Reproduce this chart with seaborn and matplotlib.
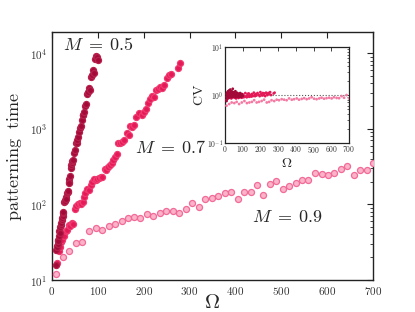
import numpy as np
import pandas as pd
import matplotlib
matplotlib.use("Agg")
import matplotlib.pyplot as plt
import seaborn as sns
from matplotlib.ticker import LogLocator, LogFormatterMathtext, FixedLocator

# ---------------- data ----------------
omega_05 = [9, 9.5, 10, 11, 12, 13, 14, 15, 16, 17, 18, 19, 20, 21, 22, 23, 24, 25, 27, 28,
            29, 30, 31, 32, 34, 35, 36, 37, 38, 39, 41, 42, 43, 44, 46, 48, 50, 52, 54, 55,
            57, 59, 61, 63, 65, 67, 68, 70, 72, 74, 76, 78, 80, 82, 86, 88, 90, 92, 94, 96,
            98, 100]
time_05 = [16, 25, 28, 27, 30, 34, 33, 38, 44, 42, 50, 54, 56, 62, 66, 70, 76, 80, 108, 115,
           110, 125, 118, 140, 148, 150, 200, 215, 191, 240, 300, 330, 355, 370, 390, 480, 520, 640, 650, 720,
           790, 900, 1020, 1100, 1320, 1500, 1540, 1650, 2000, 2100, 2900, 3100, 3500, 3300, 4800, 5200, 6000, 5500, 8500, 9100,
           8800, 8200]
cv_05 = [0.75, 0.9, 1.05, 0.95, 1.1, 0.85, 1.0, 1.15, 0.92, 1.05,
         1.2, 0.98, 0.88, 1.1, 1.0, 0.95, 1.25, 1.05, 0.9, 1.12,
         0.97, 1.3, 1.0, 0.93, 1.08, 1.15, 0.95, 1.02, 1.2, 0.9,
         1.05, 1.1, 0.98, 1.35, 1.0, 0.92, 1.15, 1.05, 0.95, 1.1,
         1.0, 1.2, 0.9, 1.03, 0.97, 1.12, 0.95, 1.0, 1.08, 0.93,
         1.0, 1.05, 0.9, 0.98, 1.1, 0.95, 1.02, 0.92, 1.0, 1.05,
         0.97, 0.95]

omega_07 = [10, 15, 17, 20, 22, 25, 27, 30, 33, 36, 40, 43, 46, 50, 53, 56, 60, 63, 67, 70,
            73, 76, 80, 85, 88, 92, 95, 98, 103, 106, 110, 115, 118, 123, 127, 130, 134, 137, 141, 145,
            148, 152, 157, 163, 167, 170, 175, 178, 184, 190, 196, 200, 205, 210, 214, 218, 222, 227, 232, 236,
            240, 245, 250, 255, 260, 275, 280]
time_07 = [17, 24, 27, 32, 34, 40, 38, 44, 46, 54, 52, 56, 55, 88, 95, 100, 104, 100, 109, 125,
           140, 160, 155, 182, 200, 215, 212, 216, 222, 230, 232, 290, 287, 316, 330, 350, 390, 420, 460, 650,
           640, 670, 700, 870, 830, 1100, 1070, 1130, 1450, 1600, 1500, 1650, 1800, 2200, 2450, 2700, 2600, 3300, 3400, 3600,
           3450, 3800, 4700, 5100, 5300, 6400, 7500]
cv_07 = [0.8, 0.95, 0.85, 1.0, 0.9, 1.05, 0.88, 0.95, 1.1, 0.85,
         0.92, 1.0, 0.9, 0.95, 1.05, 0.88, 0.92, 0.85, 0.95, 0.9,
         0.98, 0.87, 0.93, 1.0, 0.9, 0.95, 0.88, 0.92, 1.02, 0.9,
         0.95, 1.1, 0.93, 0.9, 1.05, 0.95, 1.08, 0.92, 0.98, 1.0,
         0.93, 1.05, 0.95, 1.12, 1.0, 0.95, 1.05, 0.98, 1.1, 1.02,
         0.95, 1.15, 1.05, 0.98, 1.1, 1.0, 1.08, 0.95, 1.12, 1.05,
         1.0, 1.1, 1.05, 1.15, 1.0, 1.08, 1.12]

omega_09 = [9, 24, 38, 53, 66, 80, 95, 110, 124, 138, 152, 165, 179, 192, 207, 221, 236, 249, 263, 278,
            292, 305, 320, 334, 348, 362, 377, 390, 405, 418, 433, 447, 461, 475, 489, 503, 517, 532, 545, 559,
            573, 588, 602, 615, 630, 644, 658, 672, 686, 700]
time_09 = [12, 20, 24.5, 31, 32, 45, 49, 46, 51, 55, 61, 67, 68, 67, 75, 71, 78, 83, 83, 76,
           86, 104, 92, 117, 121, 130, 141, 144, 117, 148, 145, 178, 134, 186, 205, 158, 176, 191, 210, 209,
           259, 253, 246, 259, 292, 326, 246, 282, 282, 358]
cv_09 = [0.6, 0.65, 0.7, 0.68, 0.72, 0.65, 0.7, 0.75, 0.68, 0.7,
         0.72, 0.78, 0.7, 0.72, 0.75, 0.8, 0.7, 0.72, 0.78, 0.75,
         0.8, 0.78, 0.82, 0.8, 0.78, 0.85, 0.8, 0.82, 0.85, 0.8,
         0.83, 0.86, 0.82, 0.85, 0.9, 0.84, 0.82, 0.85, 0.88, 0.84,
         0.86, 0.88, 0.85, 0.9, 0.87, 0.86, 0.95, 0.88, 1.0, 0.85]

series_labels = [r"$M\;=\;0.5$", r"$M\;=\;0.7$", r"$M\;=\;0.9$"]
x_ticks = [0, 100, 200, 300, 400, 500, 600, 700]

# ---------------- style ----------------
sns.set_style("white")
plt.rcParams["font.family"] = ["cmr10", "DejaVu Serif"]
plt.rcParams["mathtext.fontset"] = "cm"
plt.rcParams["axes.formatter.use_mathtext"] = True

face = {"0.5": "#a30a3a", "0.7": "#e41a58", "0.9": "#fbb3c9"}
edge = {"0.5": "#b8204c", "0.7": "#f03a70", "0.9": "#f26a98"}

df = pd.concat([
    pd.DataFrame({"omega": omega_05, "time": time_05, "cv": cv_05, "M": "0.5"}),
    pd.DataFrame({"omega": omega_07, "time": time_07, "cv": cv_07, "M": "0.7"}),
    pd.DataFrame({"omega": omega_09, "time": time_09, "cv": cv_09, "M": "0.9"}),
], ignore_index=True)

fig = plt.figure(figsize=(4.15, 3.12), dpi=100)
ax = fig.add_axes([0.1253, 0.1026, 0.7735, 0.7945])

for m in ["0.9", "0.7", "0.5"]:
    sub = df[df["M"] == m]
    sns.scatterplot(data=sub, x="omega", y="time", ax=ax, s=19, color=face[m],
                    edgecolor=edge[m], linewidth=0.9, legend=False, zorder=3)

ax.set_yscale("log")
ax.set_xlim(0, 700)
ax.set_ylim(10, 1.9e4)
ax.xaxis.set_major_locator(FixedLocator(x_ticks))
ax.yaxis.set_major_locator(LogLocator(base=10, numticks=10))
ax.yaxis.set_minor_locator(LogLocator(base=10, subs=np.arange(2, 10), numticks=20))
ax.yaxis.set_major_formatter(LogFormatterMathtext())
ax.tick_params(which="both", direction="in", top=True, right=True, colors="#222222",
               labelcolor="#333333", labelsize=8)
ax.tick_params(which="major", length=4, width=0.8)
ax.tick_params(which="minor", length=2, width=0.6)
for sp in ax.spines.values():
    sp.set_color("#222222")
    sp.set_linewidth(1.0)
ax.set_xlabel(r"$\Omega$", fontsize=15, labelpad=-2)
ax.set_ylabel(r"$\mathrm{patterning\ \ time}$", fontsize=13, labelpad=4)

ax.text(25, 13000, series_labels[0], fontsize=13, ha="left", va="center")
ax.text(181, 560, series_labels[1], fontsize=13, ha="left", va="center")
ax.text(436, 68, series_labels[2], fontsize=13, ha="left", va="center")

# ---------------- inset ----------------
ins = fig.add_axes([0.542, 0.5417, 0.299, 0.3073])
for m in ["0.9", "0.7", "0.5"]:
    sub = df[df["M"] == m]
    sns.scatterplot(data=sub, x="omega", y="cv", ax=ins, s=4, color=face[m] if m != "0.9" else "#f47aa3",
                    edgecolor="none", linewidth=0, legend=False, zorder=3)
ins.axhline(1.0, color="#555555", linestyle=":", linewidth=0.8, zorder=2)
ins.set_yscale("log")
ins.set_xlim(0, 700)
ins.set_ylim(0.1, 10)
ins.xaxis.set_major_locator(FixedLocator(x_ticks))
ins.yaxis.set_major_locator(LogLocator(base=10, numticks=10))
ins.yaxis.set_minor_locator(LogLocator(base=10, subs=np.arange(2, 10), numticks=20))
ins.yaxis.set_major_formatter(LogFormatterMathtext())
ins.tick_params(which="both", direction="in", top=True, right=True, colors="#222222",
                labelcolor="#333333", labelsize=5.5, pad=1)
ins.tick_params(which="major", length=3, width=0.6)
ins.tick_params(which="minor", length=1.5, width=0.5)
for sp in ins.spines.values():
    sp.set_color("#222222")
    sp.set_linewidth(0.9)
ins.set_xlabel(r"$\Omega$", fontsize=10, labelpad=1)
ins.set_ylabel(r"$\mathrm{CV}$", fontsize=10, labelpad=1)

fig.savefig("out.png", dpi=100)
